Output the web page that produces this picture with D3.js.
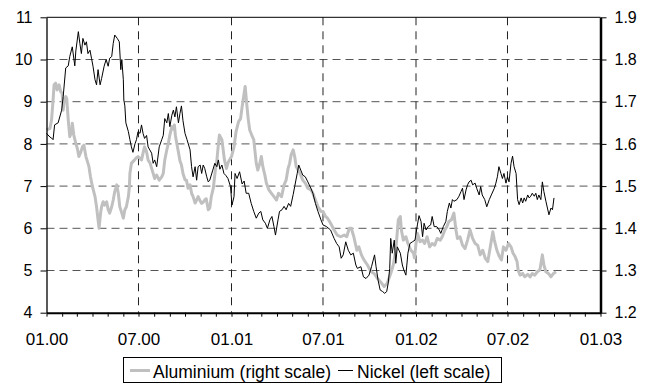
<!DOCTYPE html>
<html>
<head>
<meta charset="utf-8">
<script src="https://cdn.jsdelivr.net/npm/d3@7"></script>
<style>
  body { margin: 0; background: #fff; }
  text { font-family: "Liberation Sans", Arial, sans-serif; fill: #000; }
</style>
</head>
<body>
<div id="chart"></div>
<script>
// days counted from 1 Jan 2000
const baseDate = new Date(2000, 0, 1);

const nickelDays = [0, 7, 10, 13, 16, 23, 30, 33, 38, 43, 46, 51, 56, 58, 63, 66, 69, 72, 76, 79, 82, 86, 89, 92, 96, 99,
  102, 106, 109, 114, 118, 122, 125, 129, 132, 135, 140, 144, 147, 149, 152, 153, 155, 157, 162, 165, 168, 171, 175, 178,
  181, 185, 188, 191, 194, 198, 201, 208, 211, 214, 218, 223, 228, 231, 234, 238, 241, 244, 248, 251, 254, 257, 261, 264,
  267, 270, 274, 278, 284, 287, 290, 294, 297, 300, 304, 307, 310, 313, 317, 320, 323, 329, 333, 337, 340, 343, 347, 351,
  355, 359, 364, 367, 371, 373, 377, 382, 387, 391, 395, 400, 405, 410, 415, 420, 424, 428, 433, 437, 442, 446, 450, 453,
  458, 461, 466, 470, 474, 479, 483, 488, 491, 496, 499, 503, 507, 512, 517, 523, 527, 532, 537, 543, 547, 554, 562, 569,
  574, 579, 583, 587, 592, 597, 602, 607, 612, 615, 622, 627, 632, 638, 643, 649, 652, 656, 660, 665, 669, 673, 676, 679,
  681, 684, 688, 691, 694, 700, 704, 707, 711, 715, 719, 724, 729, 734, 737, 741, 744, 747, 751, 755, 760, 763, 767, 772,
  777, 780, 785, 790, 793, 797, 800, 803, 806, 812, 816, 820, 823, 826, 830, 833, 836, 840, 843, 848, 851, 856, 859, 862,
  867, 871, 876, 880, 886, 889, 892, 895, 899, 902, 905, 909, 912, 915, 919, 922, 925, 929, 932, 935, 939, 942, 945, 948,
  952, 955, 958, 961, 965, 968, 971, 974, 978, 981, 984, 988, 991, 994, 998, 1001, 1004];

const nickel = [8.25, 8.16, 8.14, 8.1, 8.45, 8.5, 8.8, 9.12, 9.8, 9.85, 10.07, 10.3, 9.85, 10.2, 10.66, 10.38, 10.14, 10.5,
  10.34, 10.42, 10.14, 10.22, 10.03, 9.84, 9.52, 9.4, 9.76, 9.4, 9.55, 9.84, 10.0, 9.84, 10.03, 10.07, 10.38, 10.58, 10.5,
  10.42, 9.76, 10.0, 9.52, 9.04, 8.9, 8.5, 8.29, 8.1, 7.93, 7.8, 8.0, 8.1, 8.29, 8.25, 8.45, 8.25, 8.13, 8.2, 7.93, 7.78,
  7.54, 7.62, 7.46, 7.93, 8.1, 8.2, 8.6, 8.5, 8.72, 8.41, 8.68, 8.8, 8.64, 8.88, 8.5, 8.72, 8.9, 8.55, 8.25, 8.1, 7.86,
  7.46, 7.22, 7.46, 7.14, 7.46, 7.5, 7.3, 7.5, 7.42, 7.22, 7.1, 7.14, 7.38, 7.54, 7.46, 7.62, 7.4, 7.5, 7.3, 7.25, 7.18,
  6.99, 6.55, 6.75, 7.3, 7.18, 7.34, 7.05, 7.12, 6.83, 6.83, 6.59, 6.4, 6.24, 6.36, 6.4, 6.2, 6.12, 6.0, 6.2, 6.28, 6.04,
  5.84, 6.2, 6.4, 6.44, 6.52, 6.44, 6.59, 6.52, 6.8, 6.99, 7.3, 7.5, 7.38, 7.26, 7.22, 7.1, 6.95, 6.83, 6.59, 6.4, 6.2,
  6.08, 6.04, 5.96, 5.76, 5.64, 5.56, 5.29, 5.37, 5.68, 5.48, 5.37, 5.41, 5.13, 5.05, 5.09, 4.85, 4.81, 4.89, 5.09, 5.37,
  5.09, 4.77, 4.54, 4.5, 4.46, 4.5, 4.7, 5.05, 5.76, 5.41, 5.72, 5.17, 5.56, 5.41, 5.13, 5.01, 4.89, 5.41, 5.64, 5.68,
  5.72, 6.1, 6.3, 6.16, 5.8, 6.12, 5.96, 6.04, 6.08, 6.28, 6.04, 6.04, 5.96, 5.88, 6.04, 6.16, 6.4, 6.6, 6.48, 6.68, 6.64,
  6.68, 6.76, 6.87, 6.95, 6.68, 6.91, 7.03, 7.1, 7.14, 7.03, 7.07, 6.95, 6.79, 6.99, 6.79, 6.68, 6.51, 6.68, 6.79, 6.95,
  7.07, 7.22, 7.46, 7.3, 7.18, 7.3, 7.07, 7.22, 7.1, 7.54, 7.71, 7.46, 7.3, 6.68, 6.56, 6.72, 6.6, 6.72, 6.64, 6.79, 6.72,
  6.76, 6.83, 6.76, 6.83, 6.68, 6.79, 6.68, 7.1, 6.87, 6.64, 6.48, 6.32, 6.48, 6.44, 6.72];

const aluDays = [0, 7, 10, 13, 15, 18, 21, 25, 28, 31, 33, 35, 38, 40, 43, 46, 50, 51, 54, 58, 61, 64, 68, 71, 74, 78, 80,
  84, 87, 91, 96, 99, 102, 104, 107, 109, 112, 115, 119, 122, 125, 129, 132, 135, 139, 142, 145, 149, 152, 155, 158, 162,
  164, 165, 168, 171, 177, 181, 188, 191, 194, 198, 201, 205, 208, 211, 214, 218, 223, 228, 231, 234, 238, 241, 244, 248,
  251, 253, 255, 258, 261, 264, 267, 270, 274, 277, 280, 284, 287, 290, 294, 297, 300, 304, 307, 310, 313, 316, 320, 323,
  326, 330, 334, 337, 339, 342, 347, 352, 356, 359, 362, 366, 371, 375, 380, 384, 387, 391, 393, 396, 399, 402, 406, 410,
  415, 418, 422, 425, 428, 432, 435, 440, 445, 450, 455, 459, 465, 470, 474, 478, 481, 484, 488, 491, 494, 498, 503, 507,
  512, 517, 523, 527, 532, 537, 543, 547, 552, 556, 562, 569, 575, 582, 589, 594, 599, 603, 608, 614, 618, 623, 628, 635,
  642, 648, 655, 661, 668, 674, 681, 686, 691, 696, 700, 702, 706, 711, 715, 721, 726, 728, 731, 734, 739, 744, 748, 753,
  758, 763, 768, 773, 779, 783, 788, 792, 796, 801, 806, 810, 813, 818, 823, 828, 833, 838, 843, 848, 853, 858, 863, 868,
  873, 878, 883, 886, 891, 896, 900, 904, 909, 914, 919, 923, 927, 931, 933, 937, 942, 946, 952, 957, 961, 966, 971, 976,
  981, 984, 988, 993, 998, 1003, 1008];

const aluminium = [1.633, 1.637, 1.657, 1.704, 1.74, 1.744, 1.728, 1.74, 1.724, 1.72, 1.68, 1.704, 1.712, 1.708, 1.657,
  1.617, 1.629, 1.649, 1.621, 1.601, 1.589, 1.57, 1.581, 1.593, 1.597, 1.57, 1.562, 1.546, 1.522, 1.498, 1.475, 1.451,
  1.42, 1.40, 1.436, 1.451, 1.463, 1.455, 1.463, 1.444, 1.436, 1.451, 1.467, 1.487, 1.503, 1.483, 1.451, 1.436, 1.424,
  1.444, 1.451, 1.475, 1.499, 1.53, 1.554, 1.558, 1.566, 1.57, 1.562, 1.578, 1.593, 1.581, 1.562, 1.554, 1.542, 1.53,
  1.518, 1.526, 1.514, 1.522, 1.53, 1.562, 1.586, 1.601, 1.621, 1.641, 1.635, 1.645, 1.62, 1.60, 1.58, 1.56, 1.55, 1.53,
  1.515, 1.514, 1.495, 1.503, 1.483, 1.475, 1.46, 1.467, 1.475, 1.465, 1.459, 1.462, 1.467, 1.47, 1.444, 1.448, 1.475,
  1.495, 1.538, 1.56, 1.586, 1.621, 1.61, 1.562, 1.542, 1.555, 1.562, 1.57, 1.593, 1.629, 1.653, 1.66, 1.688, 1.72, 1.736,
  1.696, 1.66, 1.633, 1.621, 1.61, 1.554, 1.538, 1.554, 1.57, 1.546, 1.526, 1.507, 1.491, 1.483, 1.475, 1.467, 1.483,
  1.475, 1.503, 1.514, 1.542, 1.554, 1.574, 1.586, 1.57, 1.546, 1.538, 1.526, 1.514, 1.507, 1.495, 1.491, 1.483, 1.467,
  1.451, 1.44, 1.44, 1.428, 1.424, 1.412, 1.396, 1.384, 1.38, 1.384, 1.38, 1.40, 1.40, 1.38, 1.348, 1.356, 1.337, 1.325,
  1.313, 1.297, 1.293, 1.281, 1.273, 1.262, 1.27, 1.293, 1.313, 1.348, 1.42, 1.428, 1.396, 1.372, 1.38, 1.364, 1.348,
  1.341, 1.33, 1.364, 1.388, 1.368, 1.372, 1.364, 1.38, 1.356, 1.364, 1.36, 1.376, 1.372, 1.38, 1.396, 1.404, 1.416, 1.42,
  1.436, 1.396, 1.376, 1.38, 1.36, 1.352, 1.372, 1.396, 1.376, 1.364, 1.36, 1.337, 1.348, 1.329, 1.321, 1.356, 1.392,
  1.372, 1.348, 1.333, 1.325, 1.356, 1.348, 1.364, 1.356, 1.341, 1.333, 1.321, 1.301, 1.289, 1.293, 1.285, 1.291, 1.285,
  1.293, 1.289, 1.297, 1.301, 1.337, 1.313, 1.297, 1.293, 1.285, 1.293, 1.297];

const leftTicks = [4, 5, 6, 7, 8, 9, 10, 11];
const rightTicks = [1.2, 1.3, 1.4, 1.5, 1.6, 1.7, 1.8, 1.9];
const xTickLabels = ['01.00', '07.00', '01.01', '07.01', '01.02', '07.02', '01.03'];
const xTickDates = [new Date(2000, 0, 1), new Date(2000, 6, 1), new Date(2001, 0, 1), new Date(2001, 6, 1),
  new Date(2002, 0, 1), new Date(2002, 6, 1), new Date(2003, 0, 1)];
const legendLabels = ['Aluminium (right scale)', 'Nickel (left scale)'];

const width = 656;
const height = 383;
const plot = { left: 46.5, right: 600.5, top: 17.3, bottom: 312.7 };

const svg = d3.select('#chart')
  .append('svg')
  .attr('width', width)
  .attr('height', height);

const x = d3.scaleTime()
  .domain([xTickDates[0], xTickDates[xTickDates.length - 1]])
  .range([plot.left, plot.right]);

const yLeft = d3.scaleLinear().domain([4, 11]).range([plot.bottom, plot.top]);
const yRight = d3.scaleLinear().domain([1.2, 1.9]).range([plot.bottom, plot.top]);

// dashed grid
svg.append('g')
  .selectAll('line')
  .data(leftTicks.slice(1, -1))
  .join('line')
  .attr('x1', plot.left).attr('x2', plot.right)
  .attr('y1', d => yLeft(d)).attr('y2', d => yLeft(d))
  .attr('stroke', '#555').attr('stroke-width', 1)
  .attr('stroke-dasharray', '8,5');

svg.append('g')
  .selectAll('line')
  .data(xTickDates.slice(1, -1))
  .join('line')
  .attr('x1', d => x(d)).attr('x2', d => x(d))
  .attr('y1', plot.top).attr('y2', plot.bottom)
  .attr('stroke', '#222').attr('stroke-width', 1)
  .attr('stroke-dasharray', '8,6');

// top border
svg.append('line')
  .attr('x1', plot.left).attr('x2', plot.right)
  .attr('y1', yLeft(11)).attr('y2', yLeft(11))
  .attr('stroke', '#000').attr('stroke-width', 1);

// series
const toDate = d => d3.timeDay.offset(baseDate, d);

const aluLine = d3.line()
  .x((d, i) => x(toDate(aluDays[i])))
  .y(d => yRight(d));

const nickelLine = d3.line()
  .x((d, i) => x(toDate(nickelDays[i])))
  .y(d => yLeft(d));

svg.append('path')
  .datum(aluminium)
  .attr('fill', 'none')
  .attr('stroke', '#c0c0c0')
  .attr('stroke-width', 3)
  .attr('stroke-linejoin', 'round')
  .attr('d', aluLine);

svg.append('path')
  .datum(nickel)
  .attr('fill', 'none')
  .attr('stroke', '#000')
  .attr('stroke-width', 1)
  .attr('d', nickelLine);

// axes
const leftAxis = svg.append('g')
  .attr('transform', `translate(${plot.left},0)`)
  .call(d3.axisLeft(yLeft).tickValues(leftTicks).tickSize(6).tickSizeOuter(0).tickPadding(8).tickFormat(d3.format('d')));

const rightAxis = svg.append('g')
  .attr('transform', `translate(${plot.right},0)`)
  .call(d3.axisRight(yRight).tickValues(rightTicks).tickSize(6).tickSizeOuter(0).tickPadding(8).tickFormat(d3.format('.1f')));

const months = d3.timeMonth.range(xTickDates[0], d3.timeDay.offset(xTickDates[xTickDates.length - 1], 1));
const bottomAxis = svg.append('g')
  .attr('transform', `translate(0,${plot.bottom})`)
  .call(d3.axisBottom(x).tickValues(months).tickSize(4).tickSizeOuter(0).tickPadding(16)
    .tickFormat(d => {
      const k = xTickDates.findIndex(t => +t === +d);
      return k >= 0 ? xTickLabels[k] : '';
    }));

[leftAxis, rightAxis, bottomAxis].forEach(g => {
  g.selectAll('text').style('font-size', '16px');
  g.selectAll('line').attr('stroke', '#000');
  g.select('.domain').attr('stroke', '#000');
});
bottomAxis.selectAll('text').style('font-size', '17px');
leftAxis.select('.domain').attr('stroke-width', 1.3);
rightAxis.select('.domain').attr('stroke-width', 2.5);
bottomAxis.select('.domain').attr('stroke-width', 2);

// legend
const legend = svg.append('g');
legend.append('rect')
  .attr('x', 123.5).attr('y', 357.5)
  .attr('width', 378).attr('height', 25)
  .attr('fill', '#fff').attr('stroke', '#000').attr('stroke-width', 1);

legend.append('line')
  .attr('x1', 130).attr('x2', 150).attr('y1', 370.5).attr('y2', 370.5)
  .attr('stroke', '#c0c0c0').attr('stroke-width', 3);
legend.append('text')
  .attr('x', 153).attr('y', 377.5)
  .style('font-size', '17.5px')
  .text(legendLabels[0]);

legend.append('line')
  .attr('x1', 338).attr('x2', 353).attr('y1', 370.5).attr('y2', 370.5)
  .attr('stroke', '#000').attr('stroke-width', 1);
legend.append('text')
  .attr('x', 357).attr('y', 377.5)
  .style('font-size', '17.5px')
  .text(legendLabels[1]);
</script>
</body>
</html>
